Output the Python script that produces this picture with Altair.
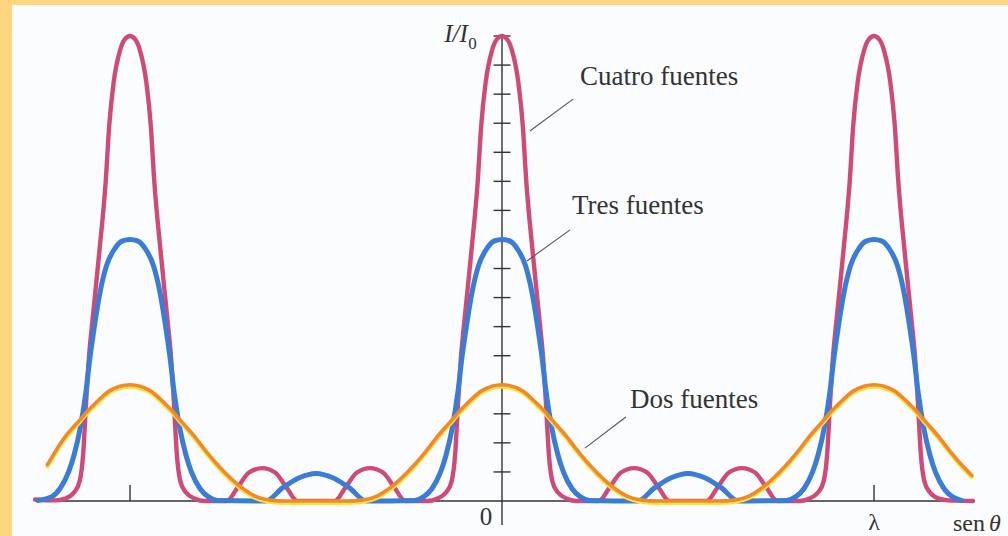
import altair as alt
import pandas as pd

# Interference intensity I/I0 against sin(theta), x measured in wavelengths.

# Four sources
x_four = [-1.255, -1.200, -1.175, -1.150, -1.135, -1.126, -1.118, -1.110, -1.101, -1.083,
          -1.065, -1.056, -1.044, -1.027, -1.013, -1.000, -0.987, -0.973, -0.956, -0.944, -0.935, -0.917,
          -0.899, -0.890, -0.882, -0.874, -0.865, -0.850, -0.825, -0.800,
          -0.740, -0.710, -0.680, -0.645, -0.610, -0.580, -0.550,
          -0.450, -0.420, -0.390, -0.355, -0.320, -0.290, -0.260,
          -0.200, -0.175, -0.150, -0.135, -0.126, -0.118, -0.110, -0.101, -0.083,
          -0.065, -0.056, -0.044, -0.027, -0.013, 0.000, 0.013, 0.027, 0.044, 0.056, 0.065,
          0.083, 0.101, 0.110, 0.118, 0.126, 0.135, 0.150, 0.175, 0.200,
          0.260, 0.290, 0.320, 0.355, 0.390, 0.420, 0.450,
          0.550, 0.580, 0.610, 0.645, 0.680, 0.710, 0.740,
          0.800, 0.825, 0.850, 0.865, 0.874, 0.882, 0.890, 0.899, 0.917,
          0.935, 0.944, 0.956, 0.973, 0.987, 1.000, 1.013, 1.027, 1.044, 1.056, 1.065,
          1.083, 1.101, 1.110, 1.118, 1.126, 1.135, 1.150, 1.175, 1.200, 1.266]
i_four = [0.05, 0.02, 0.08, 0.3, 0.7, 1.6, 3.4, 5.0, 6.2, 8.5,
          11.05, 12.9, 14.4, 15.5, 15.9, 16.0, 15.9, 15.5, 14.4, 12.9, 11.05, 8.5,
          6.2, 5.0, 3.4, 1.6, 0.7, 0.3, 0.08, 0.0,
          0.0, 0.48, 0.98, 1.13, 0.98, 0.48, 0.0,
          0.0, 0.48, 0.98, 1.13, 0.98, 0.48, 0.0,
          0.0, 0.08, 0.3, 0.7, 1.6, 3.4, 5.0, 6.2, 8.5,
          11.05, 12.9, 14.4, 15.5, 15.9, 16.0, 15.9, 15.5, 14.4, 12.9, 11.05,
          8.5, 6.2, 5.0, 3.4, 1.6, 0.7, 0.3, 0.08, 0.0,
          0.0, 0.48, 0.98, 1.13, 0.98, 0.48, 0.0,
          0.0, 0.48, 0.98, 1.13, 0.98, 0.48, 0.0,
          0.0, 0.08, 0.3, 0.7, 1.6, 3.4, 5.0, 6.2, 8.5,
          11.05, 12.9, 14.4, 15.5, 15.9, 16.0, 15.9, 15.5, 14.4, 12.9, 11.05,
          8.5, 6.2, 5.0, 3.4, 1.6, 0.7, 0.3, 0.08, 0.02, 0.0]

# Three sources
x_three = [-1.247, -1.210, -1.188, -1.165, -1.150, -1.134, -1.118, -1.108, -1.097, -1.081,
           -1.063, -1.040, -1.020, -1.000, -0.980, -0.960, -0.937, -0.919, -0.903, -0.892, -0.882, -0.866,
           -0.850, -0.835, -0.812, -0.790, -0.765,
           -0.635, -0.590, -0.545, -0.500, -0.455, -0.410, -0.365,
           -0.235, -0.210, -0.188, -0.165, -0.150, -0.134, -0.118, -0.108, -0.097,
           -0.081, -0.063, -0.040, -0.020, 0.000, 0.020, 0.040, 0.063, 0.081, 0.097, 0.108,
           0.118, 0.134, 0.150, 0.165, 0.188, 0.210, 0.235,
           0.365, 0.410, 0.455, 0.500, 0.545, 0.590, 0.635,
           0.765, 0.790, 0.812, 0.835, 0.850, 0.866, 0.882, 0.892, 0.903,
           0.919, 0.937, 0.960, 0.980, 1.000, 1.020, 1.040, 1.063, 1.081, 1.097, 1.108,
           1.118, 1.134, 1.150, 1.165, 1.188, 1.210, 1.235]
i_three = [0.02, 0.15, 0.43, 1.0, 1.6, 2.5, 3.8, 4.9, 5.9, 7.15,
           8.1, 8.7, 8.95, 9.0, 8.95, 8.7, 8.1, 7.15, 5.9, 4.9, 3.8, 2.5,
           1.6, 1.0, 0.43, 0.15, 0.02,
           0.0, 0.45, 0.8, 0.95, 0.8, 0.45, 0.0,
           0.02, 0.15, 0.43, 1.0, 1.6, 2.5, 3.8, 4.9, 5.9,
           7.15, 8.1, 8.7, 8.95, 9.0, 8.95, 8.7, 8.1, 7.15, 5.9, 4.9,
           3.8, 2.5, 1.6, 1.0, 0.43, 0.15, 0.02,
           0.0, 0.45, 0.8, 0.95, 0.8, 0.45, 0.0,
           0.02, 0.15, 0.43, 1.0, 1.6, 2.5, 3.8, 4.9, 5.9,
           7.15, 8.1, 8.7, 8.95, 9.0, 8.95, 8.7, 8.1, 7.15, 5.9, 4.9,
           3.8, 2.5, 1.6, 1.0, 0.43, 0.15, 0.02]

# Two sources
x_two = [-1.222, -1.175, -1.134, -1.121, -1.094, -1.054, -1.000, -0.946, -0.906, -0.879,
         -0.866, -0.825, -0.798, -0.772, -0.745, -0.718, -0.691, -0.664, -0.624, -0.580,
         -0.420, -0.376, -0.336, -0.309, -0.282, -0.255, -0.228, -0.202, -0.175, -0.134,
         -0.121, -0.094, -0.054, 0.000, 0.054, 0.094, 0.121, 0.134, 0.175, 0.202,
         0.228, 0.255, 0.282, 0.309, 0.336, 0.376, 0.420,
         0.580, 0.624, 0.664, 0.691, 0.718, 0.745, 0.772, 0.798, 0.825, 0.866,
         0.879, 0.906, 0.946, 1.000, 1.054, 1.094, 1.121, 1.134, 1.175, 1.202,
         1.228, 1.263]
i_two = [1.25, 2.2, 2.8, 3.0, 3.35, 3.8, 4.0, 3.8, 3.35, 3.0,
         2.8, 2.2, 1.75, 1.35, 0.98, 0.65, 0.38, 0.17, 0.03, 0.0,
         0.0, 0.03, 0.17, 0.38, 0.65, 0.98, 1.35, 1.75, 2.2, 2.8,
         3.0, 3.35, 3.8, 4.0, 3.8, 3.35, 3.0, 2.8, 2.2, 1.75,
         1.35, 0.98, 0.65, 0.38, 0.17, 0.03, 0.0,
         0.0, 0.03, 0.17, 0.38, 0.65, 0.98, 1.35, 1.75, 2.2, 2.8,
         3.0, 3.35, 3.8, 4.0, 3.8, 3.35, 3.0, 2.8, 2.2, 1.75,
         1.35, 0.88]

# Axis ticks
y_tick_values = list(range(1, 17))
x_tick_values = [-1, 1]

# Curve labels with their leader lines
label_text = ["Cuatro fuentes", "Tres fuentes", "Dos fuentes"]
label_x = [0.2097, 0.1882, 0.3441]
label_y = [14.32, 9.88, 3.20]
leader_x = [0.191, 0.183, 0.333]
leader_y = [13.83, 9.33, 2.89]
leader_x2 = [0.075, 0.067, 0.223]
leader_y2 = [12.73, 8.26, 1.82]

# ---------------------------------------------------------------------------
FONT = "Liberation Serif"
INK = "#333333"
PINK = "#CF4B77"
BLUE = "#3B7CD4"
ORANGE = "#EE8A2A"
YELLOW = "#FFE23C"

xs = alt.Scale(domain=[-1.3172, 1.3602], nice=False, zero=False)
ys = alt.Scale(domain=[-1.2044, 17.068], nice=False, zero=False)


def X(field):
    return alt.X(field, type="quantitative", scale=xs, axis=None)


def Y(field):
    return alt.Y(field, type="quantitative", scale=ys, axis=None)


def curve(xv, iv, color, width, shift=0.0):
    df = pd.DataFrame({"x": xv, "i": iv})
    ch = alt.Chart(df)
    if shift:
        ch = ch.transform_calculate(i=f"datum.i - {shift}")
    return ch.mark_line(color=color, strokeWidth=width, interpolate="monotone",
                        strokeCap="round", strokeJoin="round").encode(x=X("x"), y=Y("i"))


four = curve(x_four, i_four, PINK, 4.4)
three = curve(x_three, i_three, BLUE, 5.0)
two_under = curve(x_two, i_two, YELLOW, 3.8, shift=0.07)
two = curve(x_two, i_two, ORANGE, 3.6)

# Axes drawn through the origin
x_axis = alt.Chart(pd.DataFrame({"x": [-1.255], "x2": [1.237], "y": [0]})).mark_rule(
    color=INK, strokeWidth=1.4).encode(x=X("x"), x2="x2", y=Y("y"))
y_axis = alt.Chart(pd.DataFrame({"x": [0], "y": [-0.83], "y2": [16]})).mark_rule(
    color=INK, strokeWidth=1.4).encode(x=X("x"), y=Y("y"), y2="y2")
y_ticks = alt.Chart(pd.DataFrame({"y": y_tick_values})).transform_calculate(
    x="-0.0228", x2="0.0228").mark_rule(color=INK, strokeWidth=1.4).encode(
    x=X("x"), x2="x2:Q", y=Y("y"))
x_ticks = alt.Chart(pd.DataFrame({"x": x_tick_values})).transform_calculate(
    y="0", y2="0.55").mark_rule(color=INK, strokeWidth=1.4).encode(
    x=X("x"), y=Y("y"), y2="y2:Q")


def text(df, size, align, italic=False):
    return alt.Chart(df).mark_text(font=FONT, fontSize=size, align=align, baseline="alphabetic",
                                   color=INK, fontStyle="italic" if italic else "normal").encode(
        x=X("x"), y=Y("y"), text="t:N")


labels = text(pd.DataFrame({"x": label_x, "y": label_y, "t": label_text}), 27, "left")
leaders = alt.Chart(pd.DataFrame({"x": leader_x, "y": leader_y, "x2": leader_x2, "y2": leader_y2})).mark_rule(
    color="#555555", strokeWidth=1.1).encode(x=X("x"), y=Y("y"), x2="x2", y2="y2")

zero_label = text(pd.DataFrame({"x": [-0.043], "y": [-0.83], "t": ["0"]}), 25, "center")
lambda_label = text(pd.DataFrame({"x": [1.0], "y": [-1.0], "t": ["λ"]}), 24, "center")
sen_label = text(pd.DataFrame({"x": [1.2124], "y": [-1.03], "t": ["sen "]}), 24, "left")
theta_label = text(pd.DataFrame({"x": [1.2124 + 0.097], "y": [-1.03], "t": ["θ"]}), 24, "left", italic=True)
ii_label = text(pd.DataFrame({"x": [-0.092], "y": [15.79], "t": ["I/I"]}), 25, "right", italic=True)
sub_label = text(pd.DataFrame({"x": [-0.0905], "y": [15.55], "t": ["0"]}), 17, "left")

chart = alt.layer(
    x_axis, y_axis, y_ticks, x_ticks,
    four, three, two_under, two,
    leaders, labels, zero_label, lambda_label, sen_label, theta_label, ii_label, sub_label,
).properties(
    width=996, height=531,
    autosize=alt.AutoSizeParams(type="none"),
    padding={"left": 12, "top": 5, "right": 0, "bottom": 0},
    background="#FFD680",
).configure_view(stroke=None, fill="#FAFCFD")

chart.save("out.html", embed_options={"renderer": "svg", "actions": False})
